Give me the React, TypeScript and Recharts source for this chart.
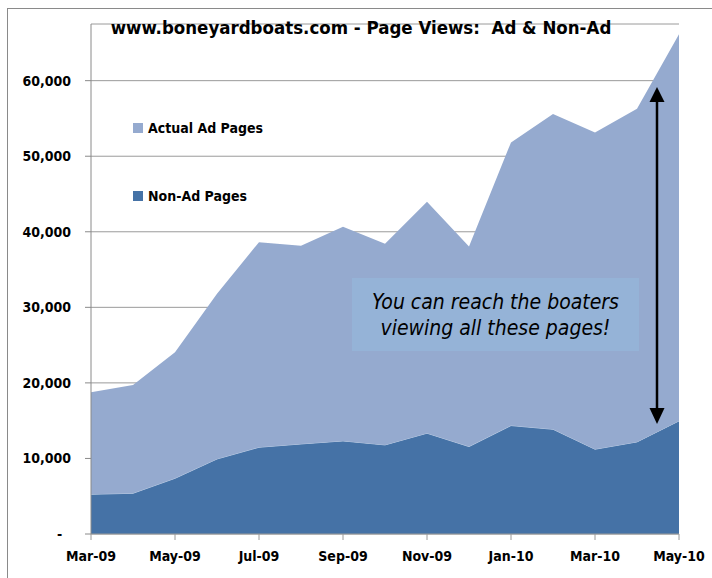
import React from "react";
import { AreaChart, Area, XAxis, YAxis, CartesianGrid } from "recharts";

const months = ["Mar-09","Apr-09","May-09","Jun-09","Jul-09","Aug-09","Sep-09","Oct-09","Nov-09","Dec-09","Jan-10","Feb-10","Mar-10","Apr-10","May-10"];
const totalPages = [18770,19730,24070,31800,38630,38150,40660,38410,43970,38050,51830,55590,53150,56290,66130];
const nonAdPages = [5260,5390,7370,9930,11480,11920,12320,11790,13340,11570,14350,13860,11220,12190,14970];
const yTicks = [0,10000,20000,30000,40000,50000,60000];
const legendItems = ["Actual Ad Pages", "Non-Ad Pages"];

const data = months.map((m, i) => ({
  month: m,
  nonAd: nonAdPages[i],
  ad: totalPages[i] - nonAdPages[i],
}));

const FONT = "'DejaVu Sans Condensed', 'DejaVu Sans', sans-serif";
const LIGHT = "#95aacf";
const DARK = "#4572a6";
const legendColors = [LIGHT, DARK];

const fmt = (v: number) => (v === 0 ? "-\u00a0\u00a0" : v.toLocaleString("en-US"));

export default function App() {
  return (
    <div style={{ position: "absolute", left: 0, top: 0, width: 712, height: 578, background: "#fff", overflow: "hidden" }}>
      <div style={{ position: "absolute", left: 7, top: 8, width: 705, height: 570, borderTop: "1px solid #8a8a8a", borderLeft: "1px solid #8a8a8a", boxSizing: "border-box" }} />
      <AreaChart
        width={712}
        height={578}
        data={data}
        margin={{ top: 24, right: 33, bottom: 0, left: 0 }}
        style={{ position: "absolute", left: 0, top: 0 }}
      >
        <CartesianGrid vertical={false} stroke="#9a9a9a" strokeWidth={1} />
        <XAxis
          dataKey="month"
          interval={1}
          height={44}
          tickSize={6}
          tickMargin={11}
          stroke="#9a9a9a"
          tick={{ fill: "#000", fontFamily: FONT, fontSize: 14, fontWeight: "bold" }}
        />
        <YAxis
          width={91}
          domain={[0, 67500]}
          ticks={yTicks}
          tickFormatter={fmt}
          tickSize={6}
          tickMargin={14}
          stroke="#8a8a8a"
          tick={{ fill: "#000", fontFamily: FONT, fontSize: 14, fontWeight: "bold" }}
        />
        <Area
          type="linear"
          dataKey="nonAd"
          name="Non-Ad Pages"
          stackId="1"
          fill={DARK}
          fillOpacity={1}
          stroke="#b9cbe3"
          strokeWidth={1}
          isAnimationActive={false}
        />
        <Area
          type="linear"
          dataKey="ad"
          name="Actual Ad Pages"
          stackId="1"
          fill={LIGHT}
          fillOpacity={1}
          stroke="none"
          isAnimationActive={false}
        />
      </AreaChart>
      <div style={{ position: "absolute", left: 133, top: 118, fontFamily: FONT, fontSize: 14, fontWeight: "bold", color: "#000" }}>
        {legendItems.map((label, i) => (
          <div key={label} style={{ display: "flex", alignItems: "center", height: 20, marginBottom: i === 0 ? 47.5 : 0 }}>
            <span style={{ display: "inline-block", width: 10, height: 10, background: legendColors[i], marginRight: 5 }} />
            <span>{label}</span>
          </div>
        ))}
      </div>
      <div style={{ position: "absolute", left: 0, top: 17, width: 722, textAlign: "center", fontFamily: FONT, fontWeight: "bold", fontSize: 18.5, color: "#000" }}>
        www.boneyardboats.com - Page Views:&nbsp; Ad &amp; Non-Ad
      </div>
      <div style={{ position: "absolute", left: 352, top: 278, width: 287, height: 73, background: "#95b3d7", display: "flex", flexDirection: "column", justifyContent: "center", alignItems: "center", fontFamily: FONT, fontStyle: "italic", fontSize: 21, lineHeight: "26px", color: "#000" }}>
        <div>You can reach the boaters</div>
        <div>viewing all these pages!</div>
      </div>
      <svg width={712} height={578} style={{ position: "absolute", left: 0, top: 0, pointerEvents: "none" }}>
        <line x1={657} y1={100} x2={657} y2={410} stroke="#000" strokeWidth={2.5} />
        <polygon points="657,87 649.5,102 664.5,102" fill="#000" />
        <polygon points="657,424 649.5,408 664.5,408" fill="#000" />
      </svg>
    </div>
  );
}
